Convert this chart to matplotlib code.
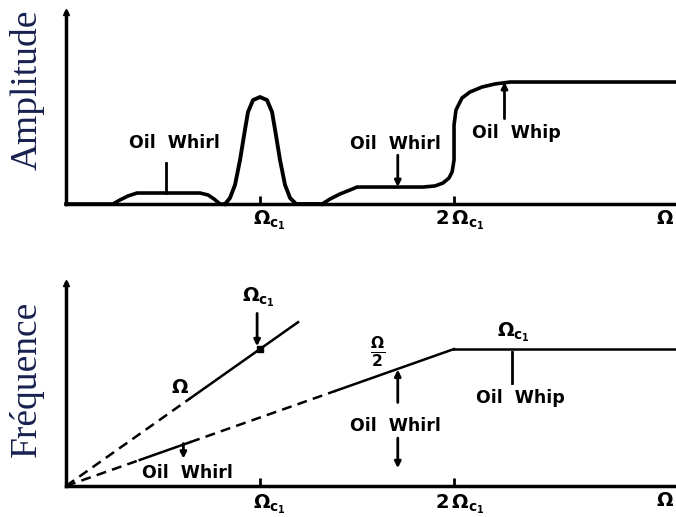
import matplotlib
matplotlib.use("Agg")
import matplotlib.pyplot as plt
import numpy as np

plt.rcParams['mathtext.fontset'] = 'dejavusans'

# speed axis in units of the first critical speed Omega_c1
X_MAX = 3.144

# amplitude response (normalised to the oil whip plateau)
hump_x = [0.0, 0.242, 0.278, 0.320, 0.366, 0.691, 0.732, 0.763, 0.794, 0.820]
hump_y = [0.0, 0.0, 0.033, 0.066, 0.090, 0.090, 0.074, 0.041, 0.0, 0.0]
peak_x = [0.820, 0.845, 0.871, 0.897, 0.918, 0.938, 0.964, 1.0,
          1.036, 1.062, 1.082, 1.103, 1.129, 1.155, 1.186, 1.320]
peak_y = [0.0, 0.049, 0.156, 0.361, 0.566, 0.754, 0.852, 0.877,
          0.852, 0.754, 0.566, 0.361, 0.156, 0.049, 0.0, 0.0]
rise_x = [1.320, 1.361, 1.412, 1.464, 1.500, 1.840, 1.902, 1.943, 1.974,
          1.990, 2.0, 2.0, 2.010, 2.041, 2.082, 2.144, 2.211, 2.289, X_MAX]
rise_y = [0.0, 0.041, 0.082, 0.115, 0.139, 0.139, 0.148, 0.172, 0.213,
          0.262, 0.361, 0.648, 0.770, 0.869, 0.918, 0.959, 0.984, 1.0, 1.0]

# frequency map: synchronous line, half-speed whirl, whip locked at Omega_c1
sync_x = [0.0, 0.64, 1.196]
whirl_x = [0.0, 0.38, 0.64, 1.39, 2.0]
whip_x = [2.0, X_MAX]
whip_f = [1.0, 1.0]

ylab_color = '#17204e'
txt = dict(fontsize=12.5, fontweight='bold', family='DejaVu Sans', color='black')


def setup(ax, ytop, lab_dy):
    ax.set_xlim(0, X_MAX)
    ax.set_ylim(0, ytop)
    for s in ['top', 'right']:
        ax.spines[s].set_visible(False)
    for s in ['left', 'bottom']:
        ax.spines[s].set_linewidth(2.5)
    ax.set_yticks([])
    ax.set_xticks([1, 2])
    ax.set_xticklabels([])
    ax.tick_params(axis='x', direction='in', length=6, width=2)
    ax.plot([0], [ytop], marker='^', color='black', markersize=5, clip_on=False)
    ax.annotate(r'$\mathbf{\Omega_{c_1}}$', xy=(1, 0), xytext=(9, -lab_dy),
                textcoords='offset pixels', ha='center', va='center', fontsize=14)
    ax.annotate(r'$\mathbf{2\,\Omega_{c_1}}$', xy=(2, 0), xytext=(6, -lab_dy),
                textcoords='offset pixels', ha='center', va='center', fontsize=14)
    ax.annotate(r'$\mathbf{\Omega}$', xy=(X_MAX, 0), xytext=(-11, -14),
                textcoords='offset pixels', ha='center', va='center', fontsize=14)


def arrow(ax, tip, tail):
    ax.annotate('', xy=tip, xytext=tail,
                arrowprops=dict(arrowstyle='-|>', lw=2, color='black',
                                mutation_scale=9, shrinkA=0, shrinkB=0))


fig = plt.figure(figsize=(6.76, 5.17), dpi=100)
fig.text(27 / 676, 1 - 90 / 517, 'Amplitude', rotation=90, ha='center', va='center',
         family='Liberation Serif', fontsize=27, color=ylab_color)
fig.text(26 / 676, 1 - 379 / 517, 'Fréquence', rotation=90, ha='center', va='center',
         family='Liberation Serif', fontsize=27, color=ylab_color)

# amplitude vs speed
ax1 = fig.add_axes([66 / 676, 313 / 517, 610 / 676, 192 / 517])
setup(ax1, 1.574, 16)
ax1.plot(hump_x, hump_y, color='black', lw=2.6, clip_on=False)
ax1.plot(peak_x, peak_y, color='black', lw=2.8, clip_on=False)
ax1.plot(rise_x, rise_y, color='black', lw=2.6, clip_on=False)
ax1.text(0.56, 0.50, 'Oil  Whirl', ha='center', va='center', **txt)
ax1.plot([0.515, 0.515], [0.09, 0.34], color='black', lw=2)
ax1.text(1.70, 0.49, 'Oil  Whirl', ha='center', va='center', **txt)
arrow(ax1, (1.71, 0.139), (1.71, 0.40))
ax1.text(2.32, 0.58, 'Oil  Whip', ha='center', va='center', **txt)
arrow(ax1, (2.26, 1.0), (2.26, 0.70))

# frequency vs speed
ax2 = fig.add_axes([66 / 676, 31 / 517, 610 / 676, 203 / 517])
setup(ax2, 1.482, 18)
sx = np.array(sync_x)
wx = np.array(whirl_x)
ax2.plot(sx[:2], sx[:2], color='black', lw=1.8, ls=(0, (4, 2.5)))
ax2.plot(sx[1:], sx[1:], color='black', lw=1.8)
ax2.plot(wx[:2], wx[:2] / 2, color='black', lw=1.8, ls=(0, (4, 2.5)))
ax2.plot(wx[1:3], wx[1:3] / 2, color='black', lw=1.8)
ax2.plot(wx[2:4], wx[2:4] / 2, color='black', lw=1.8, ls=(0, (4, 2.5)))
ax2.plot(wx[3:], wx[3:] / 2, color='black', lw=1.8)
ax2.plot(whip_x, whip_f, color='black', lw=1.8, clip_on=False)
ax2.plot([1.0], [1.0], marker='s', color='black', markersize=5)

ax2.text(0.99, 1.38, r'$\mathbf{\Omega_{c_1}}$', ha='center', va='center', fontsize=14)
arrow(ax2, (0.985, 1.02), (0.985, 1.26))
ax2.text(0.59, 0.72, r'$\mathbf{\Omega}$', ha='center', va='center', fontsize=14)
ax2.text(0.625, 0.095, 'Oil  Whirl', ha='center', va='center', **txt)
arrow(ax2, (0.605, 0.20), (0.605, 0.31))
ax2.text(1.605, 0.98, r'$\mathbf{\frac{\Omega}{2}}$', ha='center', va='center', fontsize=16)
ax2.text(1.70, 0.44, 'Oil  Whirl', ha='center', va='center', **txt)
arrow(ax2, (1.71, 0.85), (1.71, 0.61))
arrow(ax2, (1.71, 0.13), (1.71, 0.35))
ax2.text(2.305, 1.12, r'$\mathbf{\Omega_{c_1}}$', ha='center', va='center', fontsize=14)
ax2.plot([2.30, 2.30], [0.75, 0.98], color='black', lw=2)
ax2.text(2.34, 0.64, 'Oil  Whip', ha='center', va='center', **txt)

fig.savefig('out.png', dpi=100)
